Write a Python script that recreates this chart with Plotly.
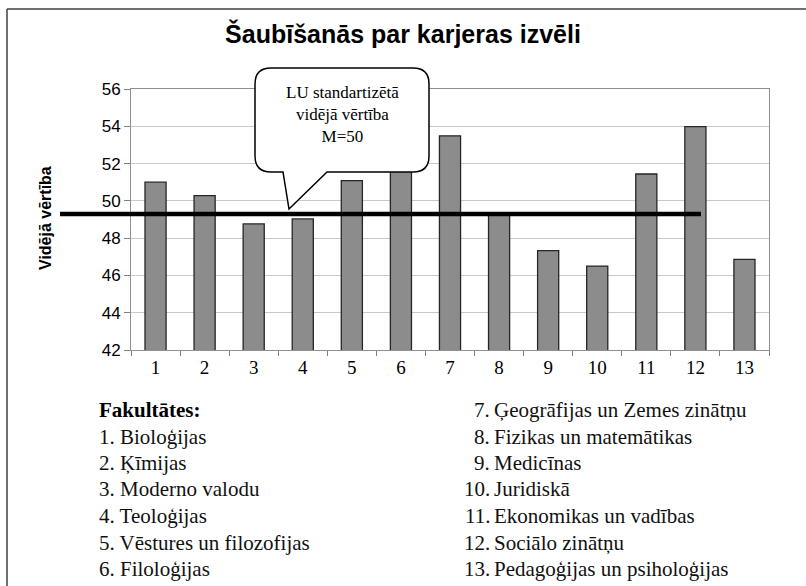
import plotly.graph_objects as go

# Data: average "career choice doubt" scores by faculty
faculty_nr = ["1", "2", "3", "4", "5", "6", "7", "8", "9", "10", "11", "12", "13"]
mean_values = [51.0, 50.28, 48.76, 49.03, 51.08, 52.0, 53.49, 49.3, 47.33, 46.5, 51.44, 53.98, 46.86]
lu_mean = 49.3

faculties_left = ["1. Bioloģijas", "2. Ķīmijas", "3. Moderno valodu", "4. Teoloģijas",
                  "5. Vēstures un filozofijas", "6. Filoloģijas"]
faculties_right = ["7. Ģeogrāfijas un Zemes zinātņu", "8. Fizikas un matemātikas", "9. Medicīnas",
                   "10. Juridiskā", "11. Ekonomikas un vadības", "12. Sociālo zinātņu",
                   "13. Pedagoģijas un psiholoģijas"]

# Canvas / plot-area geometry (pixels)
W, H = 806, 586
L, R, T, B = 131, 769, 89, 350
PW, PH = R - L, B - T

SANS = "Liberation Sans, Arial, sans-serif"
SERIF = "Liberation Serif, Times New Roman, serif"


def px(x):
    return (x - L) / PW


def py(y):
    return (B - y) / PH


def pt(x, y):
    return f"{px(x):.5f},{py(y):.5f}"


fig = go.Figure()
fig.add_trace(go.Bar(
    x=faculty_nr, y=mean_values,
    marker=dict(color="#8c8c8c", line=dict(color="#262626", width=1.3)),
    showlegend=False,
))

fig.update_layout(
    width=W, height=H,
    margin=dict(l=L, r=W - R, t=T, b=H - B),
    paper_bgcolor="white", plot_bgcolor="white",
    bargap=0.57,
    title=dict(text="<b>Šaubīšanās par karjeras izvēli</b>", x=0.5, xanchor="center",
               y=1 - 34 / H, yanchor="middle",
               font=dict(family=SANS, size=25, color="black")),
    xaxis=dict(type="category", tickson="boundaries", ticks="outside", ticklen=5,
               tickcolor="#808080", showline=True, linecolor="#909090", mirror=True,
               showgrid=False, tickfont=dict(family=SERIF, size=19, color="black")),
    yaxis=dict(range=[42, 56], dtick=2, ticks="outside", ticklen=6, tickcolor="#808080",
               showline=True, linecolor="#909090", mirror=True,
               gridcolor="#c8c8c8", gridwidth=1,
               tickfont=dict(family=SANS, size=17, color="black")),
)

shapes = []
# outer frame (top and left edges visible)
shapes.append(dict(type="line", xref="paper", yref="paper", x0=px(7), x1=px(W + 5),
                   y0=py(9), y1=py(9), line=dict(color="#404040", width=1.5)))
shapes.append(dict(type="line", xref="paper", yref="paper", x0=px(7), x1=px(7),
                   y0=py(9), y1=py(H + 5), line=dict(color="#404040", width=1.5)))
# LU standardised mean line
shapes.append(dict(type="line", xref="paper", yref="y", x0=px(60), x1=px(701),
                   y0=lu_mean, y1=lu_mean, line=dict(color="black", width=4.5), layer="above"))

# callout bubble
x0, x1, y0, y1, r = 255, 429, 68, 172, 16
path = (f"M {pt(x0 + r, y0)} L {pt(x1 - r, y0)} Q {pt(x1, y0)} {pt(x1, y0 + r)} "
        f"L {pt(x1, y1 - r)} Q {pt(x1, y1)} {pt(x1 - r, y1)} "
        f"L {pt(327, y1)} L {pt(289, 209)} L {pt(283, y1)} "
        f"L {pt(x0 + r, y1)} Q {pt(x0, y1)} {pt(x0, y1 - r)} "
        f"L {pt(x0, y0 + r)} Q {pt(x0, y0)} {pt(x0 + r, y0)} Z")
shapes.append(dict(type="path", xref="paper", yref="paper", path=path,
                   fillcolor="white", line=dict(color="black", width=1.5), layer="above"))
fig.update_layout(shapes=shapes)

# callout text
fig.add_annotation(xref="paper", yref="paper", x=px(342), y=py(114), showarrow=False,
                   xanchor="center", yanchor="middle",
                   text="LU standartizētā<br>vidējā vērtība<br>M=50",
                   font=dict(family=SERIF, size=17, color="black"), align="center")

# y-axis title
fig.add_annotation(xref="paper", yref="paper", x=px(45), y=py(218), showarrow=False,
                   xanchor="center", yanchor="middle",
                   text="<b>Vidējā vērtība</b>", textangle=-90,
                   font=dict(family=SANS, size=16, color="black"))

# faculty key
row_y = [410, 436.5, 463, 489.5, 516, 542.5, 569]
fig.add_annotation(xref="paper", yref="paper", x=px(97), y=py(row_y[0]),
                   xanchor="left", yanchor="middle",
                   showarrow=False, text="<b>Fakultātes:</b>",
                   font=dict(family=SERIF, size=21, color="black"))
for i, name in enumerate(faculties_left):
    fig.add_annotation(xref="paper", yref="paper", x=px(97), y=py(row_y[i + 1]),
                       xanchor="left", yanchor="middle",
                       showarrow=False, text=name, font=dict(family=SERIF, size=21, color="#111"))
for i, name in enumerate(faculties_right):
    nr, rest = name.split(" ", 1)
    fig.add_annotation(xref="paper", yref="paper", x=px(492), y=py(row_y[i]),
                       xanchor="right", yanchor="middle",
                       showarrow=False, text=nr, font=dict(family=SERIF, size=21, color="#111"))
    fig.add_annotation(xref="paper", yref="paper", x=px(492), y=py(row_y[i]),
                       xanchor="left", yanchor="middle",
                       showarrow=False, text=rest, font=dict(family=SERIF, size=21, color="#111"))

fig.write_html("out.html", config={"displayModeBar": False},
               post_script="document.body.style.margin='0';")
